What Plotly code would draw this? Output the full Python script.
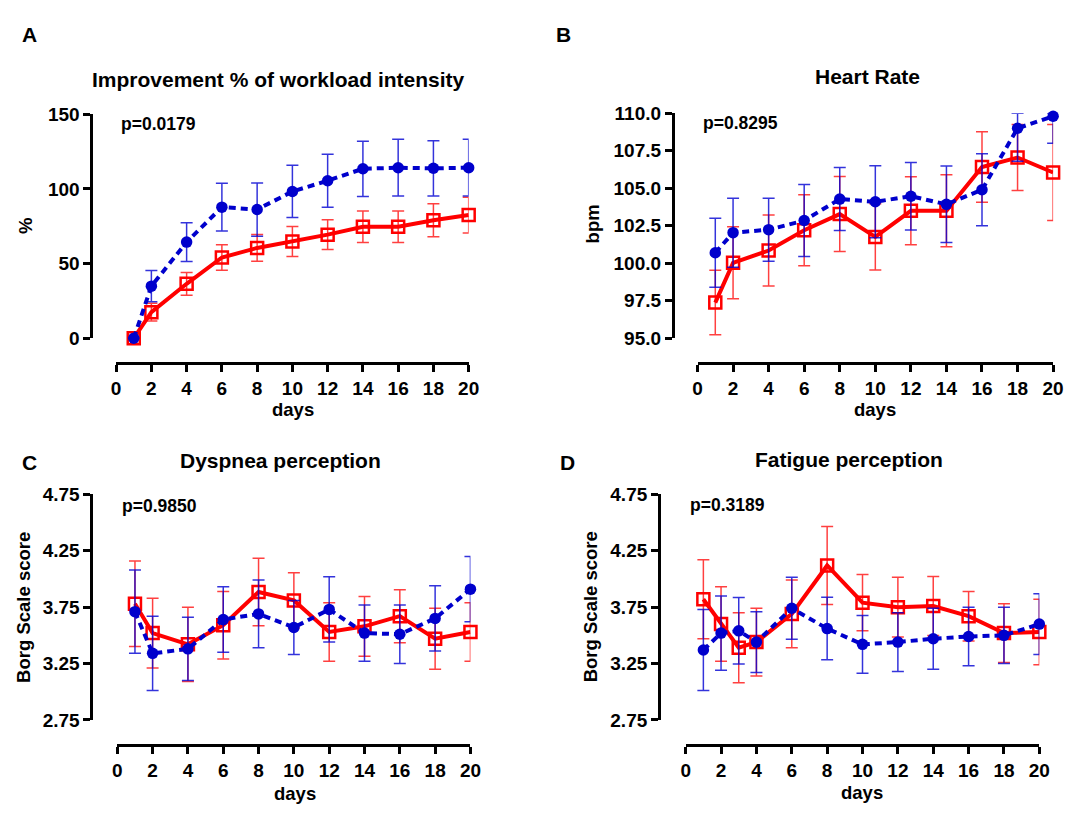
import plotly.graph_objects as go

# ---------------- data ----------------
days = [1, 2, 4, 6, 8, 10, 12, 14, 16, 18, 20]
days_D = [1, 2, 3, 4, 6, 8, 10, 12, 14, 16, 18, 20]
x_ticks = [0, 2, 4, 6, 8, 10, 12, 14, 16, 18, 20]

# A: Improvement % of workload intensity
A_blue = [0, 34.9, 64.4, 87.8, 86.2, 98.3, 105.5, 113.5, 114.2, 113.8, 114.2]
A_blue_err = [0, 10.5, 13, 16, 17.8, 17.5, 17.7, 18.5, 19, 18.5, 19]
A_red = [0, 17.5, 36.5, 54.1, 60.5, 64.8, 69.4, 74.7, 74.7, 79, 82.5]
A_red_err = [0, 6, 7.6, 8.5, 9, 10, 10, 10.5, 10.5, 11, 12]

# B: Heart Rate
B_blue = [100.7, 102.04, 102.24, 102.85, 104.28, 104.1, 104.47, 103.93, 104.9, 109.0, 109.8]
B_blue_err_plus = [2.3, 2.3, 2.1, 2.4, 2.1, 2.4, 2.25, 2.55, 2.4, 1.0, 0.2]
B_blue_err_minus = [2.3, 2.3, 2.1, 2.4, 2.1, 2.4, 2.25, 2.55, 2.4, 2.2, 1.8]
B_red = [97.38, 100.03, 100.85, 102.2, 103.28, 101.76, 103.5, 103.5, 106.42, 107.05, 106.05]
B_red_err = [2.15, 2.4, 2.37, 2.36, 2.5, 2.2, 2.27, 2.4, 2.35, 2.2, 3.2]

# C: Dyspnea perception
C_blue = [3.71, 3.34, 3.38, 3.64, 3.69, 3.57, 3.73, 3.52, 3.51, 3.65, 3.91]
C_blue_err = [0.37, 0.33, 0.28, 0.29, 0.30, 0.24, 0.29, 0.25, 0.26, 0.29, 0.29]
C_red = [3.78, 3.52, 3.42, 3.59, 3.885, 3.81, 3.53, 3.58, 3.67, 3.47, 3.53]
C_red_err = [0.38, 0.31, 0.33, 0.30, 0.30, 0.245, 0.26, 0.265, 0.235, 0.27, 0.26]

# D: Fatigue perception
D_blue = [3.37, 3.52, 3.54, 3.44, 3.74, 3.56, 3.42, 3.44, 3.47, 3.49, 3.50, 3.60]
D_blue_err = [0.36, 0.33, 0.295, 0.27, 0.275, 0.277, 0.256, 0.26, 0.27, 0.26, 0.25, 0.27]
D_red = [3.82, 3.60, 3.39, 3.44, 3.69, 4.12, 3.79, 3.75, 3.76, 3.67, 3.52, 3.53]
D_red_err = [0.35, 0.33, 0.31, 0.30, 0.30, 0.346, 0.25, 0.265, 0.262, 0.22, 0.26, 0.29]

titles = ["Improvement % of workload intensity", "Heart Rate", "Dyspnea perception", "Fatigue perception"]
letters = ["A", "B", "C", "D"]
pvals = ["p=0.0179", "p=0.8295", "p=0.9850", "p=0.3189"]
ytitles = ["%", "bpm", "Borg Scale score", "Borg Scale score"]
borg_ticks = [2.75, 3.25, 3.75, 4.25, 4.75]
hr_ticks = [95.0, 97.5, 100.0, 102.5, 105.0, 107.5, 110.0]
pct_ticks = [0, 50, 100, 150]

# ---------------- layout helpers ----------------
W, H = 1072, 813
def PX(x):
    return x / W
def PY(y):
    return 1 - y / H

FONT = "Liberation Sans, Arial, sans-serif"
BLUE = "#0000CC"
RED = "#FF0000"
BLUE_ERR = "rgba(0,0,210,0.8)"
RED_ERR = "rgba(255,0,0,0.75)"

# pixel geometry per panel
geo = [
    dict(x0=112.8, x1=470.7, yt=107, yb=337, xl=362.5, yl=87.8, rng=[0, 150], tv=pct_ticks, tf=None,
         tx=278, ty=71, lx=25, ly=25, ptx=116, pty=117, ytx=21, yty=222, dx=292, dy=410),
    dict(x0=703, x1=1064, yt=106, yb=337, xl=362.5, yl=678, rng=[95, 110], tv=hr_ticks, tf=".1f",
         tx=876, ty=68, lx=567, ly=25, ptx=707, pty=116, ytx=596, yty=220, dx=883, dy=410),
    dict(x0=114, x1=472.5, yt=497.3, yb=728.7, xl=754.6, yl=87.8, rng=[2.75, 4.75], tv=borg_ticks, tf=".2f",
         tx=280, ty=462, lx=25, ly=465, ptx=117, pty=509, ytx=18, yty=613, dx=294, dy=804),
    dict(x0=691, x1=1050, yt=497.3, yb=728.7, xl=754.6, yl=664, rng=[2.75, 4.75], tv=borg_ticks, tf=".2f",
         tx=857, ty=461, lx=571, ly=465, ptx=693.5, pty=508, ytx=594, yty=613, dx=870, dy=803),
]

series = [
    (days, A_red, A_red_err, A_red_err, A_blue, A_blue_err, A_blue_err),
    (days, B_red, B_red_err, B_red_err, B_blue, B_blue_err_plus, B_blue_err_minus),
    (days, C_red, C_red_err, C_red_err, C_blue, C_blue_err, C_blue_err),
    (days_D, D_red, D_red_err, D_red_err, D_blue, D_blue_err, D_blue_err),
]

fig = go.Figure()
layout = dict(
    width=W, height=H, margin=dict(l=0, r=0, t=0, b=0),
    paper_bgcolor="white", plot_bgcolor="white", showlegend=False,
    font=dict(family=FONT, color="black"),
)
annotations = []

for i, (g, s) in enumerate(zip(geo, series)):
    k = "" if i == 0 else str(i + 1)
    xa, ya = "x" + k, "y" + k
    xd, rd, rep, rem, bd, bep, bem = s
    fig.add_trace(go.Scatter(
        x=xd, y=rd, xaxis=xa, yaxis=ya, mode="lines+markers", cliponaxis=False,
        line=dict(color=RED, width=4),
        marker=dict(symbol="square-open", size=12, color=RED, line=dict(width=2.5, color=RED)),
        error_y=dict(type="data", array=rep, arrayminus=rem, symmetric=False,
                     color=RED_ERR, thickness=1.5, width=6),
    ))
    fig.add_trace(go.Scatter(
        x=xd, y=bd, xaxis=xa, yaxis=ya, mode="lines+markers", cliponaxis=False,
        line=dict(color=BLUE, width=4, dash="7px,5px"),
        marker=dict(symbol="circle", size=11.5, color=BLUE),
        error_y=dict(type="data", array=bep, arrayminus=bem, symmetric=False,
                     color=BLUE_ERR, thickness=1.5, width=6),
    ))
    axcommon = dict(showline=True, linewidth=3, linecolor="black", ticks="outside",
                    ticklen=7, tickwidth=3, tickcolor="black", showgrid=False, zeroline=False,
                    tickfont=dict(family=FONT, size=19, color="black", weight="bold"),
                    anchor="free", fixedrange=True)
    layout["xaxis" + k] = dict(axcommon, domain=[PX(g["x0"]), PX(g["x1"])], range=[0, 20],
                               position=PY(g["xl"]), tickvals=x_ticks)
    yax = dict(axcommon, domain=[PY(g["yb"]), PY(g["yt"])], range=g["rng"],
               position=PX(g["yl"]), tickvals=g["tv"])
    if g["tf"]:
        yax["tickformat"] = g["tf"]
    layout["yaxis" + k] = yax

    bold = dict(family=FONT, color="black", weight="bold")
    annotations += [
        dict(text=titles[i], x=PX(g["tx"]), y=PY(g["ty"]), xref="paper", yref="paper",
             xanchor="center", yanchor="middle", showarrow=False, font=dict(bold, size=21)),
        dict(text=letters[i], x=PX(g["lx"]), y=PY(g["ly"]), xref="paper", yref="paper",
             xanchor="center", yanchor="middle", showarrow=False, font=dict(bold, size=21)),
        dict(text=pvals[i], x=PX(g["ptx"]), y=PY(g["pty"]), xref="paper", yref="paper",
             xanchor="left", yanchor="middle", showarrow=False, font=dict(bold, size=17.5)),
        dict(text=ytitles[i], x=PX(g["ytx"]), y=PY(g["yty"]), xref="paper", yref="paper",
             xanchor="center", yanchor="middle", showarrow=False, textangle=-90,
             font=dict(bold, size=18.5)),
        dict(text="days", x=PX(g["dx"]), y=PY(g["dy"]), xref="paper", yref="paper",
             xanchor="center", yanchor="middle", showarrow=False, font=dict(bold, size=18.5)),
    ]

layout["annotations"] = annotations
fig.update_layout(**layout)
fig.write_html(
    "out.html",
    config={"displayModeBar": False, "responsive": False},
    post_script=("document.documentElement.style.margin='0px';"
                 "document.body.style.margin='0px';"
                 "document.documentElement.style.overflow='hidden';"
                 "document.body.style.overflow='hidden';"),
)
